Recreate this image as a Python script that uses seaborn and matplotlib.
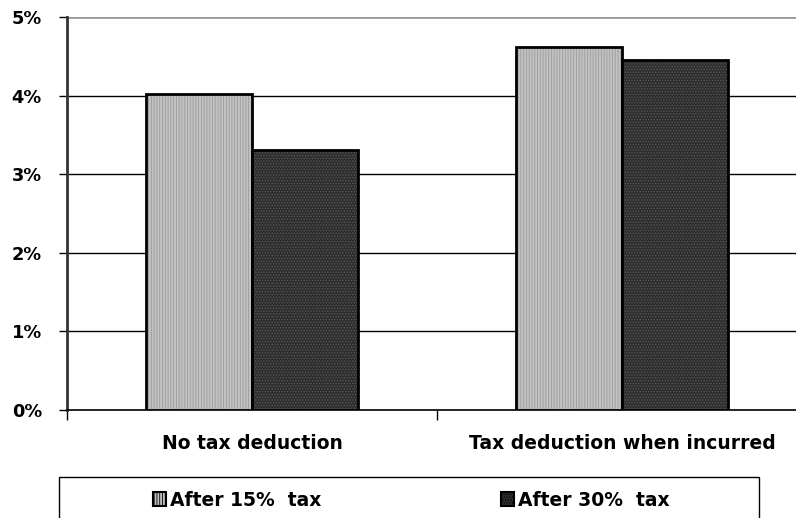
import matplotlib
matplotlib.use("Agg")
import matplotlib.pyplot as plt
import seaborn as sns
import pandas as pd
from matplotlib.patches import Rectangle
from matplotlib.ticker import PercentFormatter

categories = ["No tax deduction", "Tax deduction when incurred"]
series = ["After 15%  tax", "After 30%  tax"]
after15 = [4.02, 4.62]
after30 = [3.31, 4.45]
yticks = [0, 1, 2, 3, 4, 5]

df = pd.DataFrame({
    "category": categories * 2,
    "series": [series[0]] * 2 + [series[1]] * 2,
    "value": after15 + after30,
})

sns.set_style("white")
plt.rcParams['font.family'] = ['DejaVu Sans']
plt.rcParams['text.color'] = 'black'
plt.rcParams['xtick.color'] = 'black'
plt.rcParams['ytick.color'] = 'black'
plt.rcParams['hatch.linewidth'] = 0.6

FS = 13.5
fig = plt.figure(figsize=(7.96, 5.18), dpi=100)
W, H = 796, 518
ax = fig.add_axes([67 / W, 1 - 410 / H, (807 - 67) / W, (410 - 17) / H])

sns.barplot(data=df, x="category", y="value", hue="series", ax=ax,
            palette=["#c2c2c2", "#2e2e2e"], width=0.573, gap=0,
            edgecolor="black", linewidth=2.0, saturation=1, legend=False)

hatch_cols = ["#9c9c9c", "#5a5a5a"]
hatches = ["||||||", "......"]
for i, cont in enumerate(ax.containers):
    for bar in cont:
        bar.set_hatch(hatches[i])
        bar._hatch_color = matplotlib.colors.to_rgba(hatch_cols[i])
        bar.set_zorder(3)

ax.set_ylim(0, 5)
ax.set_xlim(-0.5, 1.5)
ax.set_yticks(yticks)
ax.yaxis.set_major_formatter(PercentFormatter(decimals=0))
ax.set_xlabel("")
ax.set_ylabel("")
for y in yticks[1:5]:
    ax.axhline(y, color="black", lw=1.0, zorder=1)
ax.axhline(5, color="#999999", lw=2.0, zorder=1)

ax.set_xticks([0, 1])
ax.set_xticklabels(categories, fontsize=FS, fontweight="bold")
ax.tick_params(axis="x", length=0, pad=17)
ax.set_xticks([-0.5, 0.5, 1.5], minor=True)
ax.tick_params(axis="x", which="minor", length=7, width=1, color="black", direction="out", bottom=True)
ax.tick_params(axis="y", length=6, width=1, color="black", direction="out", left=True, labelsize=12.8, pad=12)
for lbl in ax.get_yticklabels():
    lbl.set_fontweight("bold")

for s in ["top", "right"]:
    ax.spines[s].set_visible(False)
ax.spines["left"].set_color("#333333")
ax.spines["left"].set_linewidth(2.0)
ax.spines["bottom"].set_color("black")
ax.spines["bottom"].set_linewidth(1.2)

# legend frame
fig.patches.append(Rectangle((59 / W, -0.05), (759 - 59) / W, 0.05 + 1 - 477 / H,
                             transform=fig.transFigure, fill=False,
                             edgecolor="black", linewidth=1.0))
handles = [Rectangle((0, 0), 1, 1, facecolor="#c2c2c2", edgecolor="black", linewidth=1.5,
                     hatch=hatches[0]),
           Rectangle((0, 0), 1, 1, facecolor="#2e2e2e", edgecolor="black", linewidth=1.5,
                     hatch=hatches[1])]
leg = fig.legend(handles, series, loc="center", bbox_to_anchor=(411 / W, 1 - 500 / H),
                 ncol=2, frameon=False, prop={"weight": "bold", "size": FS},
                 handlelength=0.7, handleheight=0.7, handletextpad=0.2, columnspacing=9.6)

fig.savefig("out.png", dpi=100)
